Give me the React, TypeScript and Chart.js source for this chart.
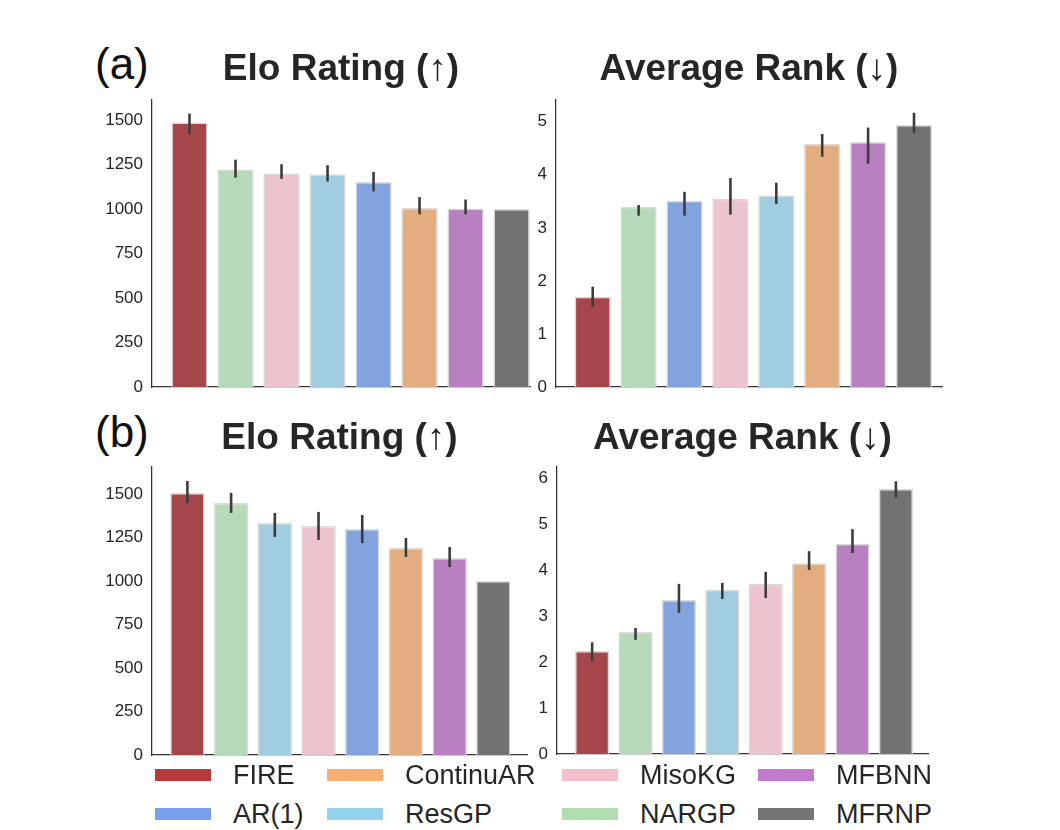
import { useEffect, useRef } from "react";
import { Chart, registerables } from "chart.js";
Chart.register(...registerables);

// (a) Elo rating
const eloAMethods = ["FIRE", "NARGP", "MisoKG", "ResGP", "AR(1)", "ContinuAR", "MFBNN", "MFRNP"];
const eloAValues = [1485, 1221, 1199, 1195, 1152, 1006, 1003, 1000];
const eloALow = [1420, 1176, 1169, 1154, 1099, 970, 970, 1000];
const eloAHigh = [1536, 1277, 1251, 1246, 1208, 1067, 1053, 1000];

// (a) Average rank
const rankAMethods = ["FIRE", "NARGP", "AR(1)", "MisoKG", "ResGP", "ContinuAR", "MFBNN", "MFRNP"];
const rankAValues = [1.7, 3.4, 3.51, 3.55, 3.61, 4.58, 4.62, 4.94];
const rankALow = [1.51, 3.23, 3.23, 3.25, 3.45, 4.34, 4.21, 4.79];
const rankAHigh = [1.89, 3.43, 3.68, 3.94, 3.85, 4.77, 4.89, 5.17];

// (b) Elo rating
const eloBMethods = ["FIRE", "NARGP", "ResGP", "MisoKG", "AR(1)", "ContinuAR", "MFBNN", "MFRNP"];
const eloBValues = [1506, 1448, 1333, 1316, 1299, 1190, 1132, 1000];
const eloBLow = [1448, 1391, 1253, 1236, 1218, 1138, 1080, 1000];
const eloBHigh = [1575, 1506, 1391, 1397, 1379, 1247, 1195, 1000];

// (b) Average rank
const rankBMethods = ["FIRE", "NARGP", "AR(1)", "ResGP", "MisoKG", "ContinuAR", "MFBNN", "MFRNP"];
const rankBValues = [2.24, 2.65, 3.35, 3.57, 3.7, 4.15, 4.57, 5.76];
const rankBLow = [2.02, 2.48, 3.07, 3.37, 3.39, 4.0, 4.37, 5.57];
const rankBHigh = [2.43, 2.74, 3.7, 3.72, 3.96, 4.41, 4.89, 5.93];

const legendMethods = ["FIRE", "ContinuAR", "MisoKG", "MFBNN", "AR(1)", "ResGP", "NARGP", "MFRNP"];

const barColors: Record<string, string> = {
  FIRE: "#a5474a",
  NARGP: "#b5d9b9",
  MisoKG: "#ecc4cd",
  ResGP: "#a0cde0",
  "AR(1)": "#82a3dd",
  ContinuAR: "#e4ad80",
  MFBNN: "#b880c1",
  MFRNP: "#727272",
};

const legendColors: Record<string, string> = {
  FIRE: "#b93a3c",
  NARGP: "#b1ddb3",
  MisoKG: "#f3bfcb",
  ResGP: "#93d1ec",
  "AR(1)": "#779fee",
  ContinuAR: "#f7ae6f",
  MFBNN: "#c27acd",
  MFRNP: "#737373",
};

const FONT = "'Liberation Sans', Arial, sans-serif";
const TEXT = "#262626";
const TITLE_SIZE = 37;

type Area = { l: number; r: number; t: number; b: number };
type PanelProps = {
  title: string;
  methods: string[];
  values: number[];
  low: number[];
  high: number[];
  yMax: number;
  step: number;
  xMin: number;
  xMax: number;
  area: Area;
  titleY: number;
};

const Y_AXIS_W = 62;
const PAD_R = 10;
const PAD_B = 10;

const Panel = ({ title, methods, values, low, high, yMax, step, xMin, xMax, area, titleY }: PanelProps) => {
  const ref = useRef<null | HTMLCanvasElement>(null);
  const left = area.l - Y_AXIS_W;
  const top = titleY - 34;
  const width = area.r + PAD_R - left;
  const height = area.b + PAD_B - top;
  const halfLine = TITLE_SIZE * 0.6;

  useEffect(() => {
    if (!ref.current) return;
    const ctx = ref.current.getContext("2d");
    if (!ctx) throw new Error("Canvas Error: Ctx not available");

    const errorBars = {
      id: "errorBars",
      afterDatasetsDraw(chart: Chart) {
        const { ctx: c, scales } = chart;
        const x = scales.x;
        const y = scales.y;
        c.save();
        c.strokeStyle = "#3c3c3c";
        c.lineWidth = 2.6;
        low.forEach((lo, i) => {
          if (high[i] - lo < 1e-9) return;
          const px = x.getPixelForValue(i);
          c.beginPath();
          c.moveTo(px, y.getPixelForValue(lo));
          c.lineTo(px, y.getPixelForValue(high[i]));
          c.stroke();
        });
        c.restore();
      },
    };

    const chart = new Chart(ctx, {
      type: "bar",
      data: {
        datasets: [
          {
            data: values.map((v, i) => ({ x: i, y: v })),
            backgroundColor: methods.map((m) => barColors[m]),
            borderColor: "rgba(214,214,214,0.9)",
            borderWidth: 1.5,
            barPercentage: 0.79,
            categoryPercentage: 1,
          },
        ],
      },
      options: {
        animation: false,
        responsive: true,
        maintainAspectRatio: false,
        layout: { padding: { left: 0, right: PAD_R, top: 0, bottom: PAD_B } },
        plugins: {
          legend: { display: false },
          tooltip: { enabled: false },
          title: {
            display: true,
            text: title,
            fullSize: false,
            color: TEXT,
            font: { family: FONT, weight: "bold", size: TITLE_SIZE, lineHeight: 1.2 },
            padding: { top: titleY - top - halfLine, bottom: area.t - titleY - halfLine },
          },
        },
        scales: {
          x: {
            type: "linear",
            min: xMin,
            max: xMax,
            offset: false,
            grid: { display: false, drawTicks: false },
            ticks: { display: false, stepSize: 1, includeBounds: false },
            border: { color: "#333333", width: 1.25 },
            afterFit: (s: any) => {
              s.height = 0;
            },
          },
          y: {
            min: 0,
            max: yMax,
            grid: { display: false, drawTicks: false },
            ticks: {
              stepSize: step,
              includeBounds: false,
              padding: 9,
              color: TEXT,
              font: { family: FONT, size: 17 },
              callback: (v: any) => String(v),
            },
            border: { color: "#333333", width: 1.25 },
            afterFit: (s: any) => {
              s.width = Y_AXIS_W;
              s.paddingTop = 0;
              s.paddingBottom = 0;
            },
          },
        },
      },
      plugins: [errorBars],
    } as any);
    return () => chart.destroy();
  }, []);

  return (
    <div style={{ position: "absolute", left, top, width, height }}>
      <canvas ref={ref}></canvas>
    </div>
  );
};

const legendCols = [155, 327, 562, 758];
const legendRows = [775, 814];

const Legend = () => (
  <>
    {legendMethods.map((m, i) => (
      <div
        key={m}
        style={{
          position: "absolute",
          left: legendCols[i % 4],
          top: legendRows[Math.floor(i / 4)] - 14,
          height: 28,
          display: "flex",
          alignItems: "center",
          fontFamily: FONT,
          fontSize: 27,
          color: TEXT,
          whiteSpace: "nowrap",
        }}
      >
        <span style={{ display: "inline-block", width: 56, height: 12, background: legendColors[m], marginRight: 22 }} />
        <span style={{ lineHeight: 1 }}>{m}</span>
      </div>
    ))}
  </>
);

const panelLabel = (text: string, top: number) => (
  <div
    style={{
      position: "absolute",
      left: 95,
      top,
      fontFamily: FONT,
      fontSize: 44,
      lineHeight: 1,
      color: "#111",
    }}
  >
    {text}
  </div>
);

const App = () => (
  <div style={{ position: "absolute", left: 0, top: 0, width: 1060, height: 830, background: "#fff", overflow: "hidden" }}>
    {panelLabel("(a)", 42)}
    {panelLabel("(b)", 410)}
    <Panel
      title="Elo Rating (↑)"
      methods={eloAMethods}
      values={eloAValues}
      low={eloALow}
      high={eloAHigh}
      yMax={1612}
      step={250}
      xMin={-0.815}
      xMax={7.4}
      area={{ l: 152, r: 530, t: 100, b: 387 }}
      titleY={70}
    />
    <Panel
      title="Average Rank (↓)"
      methods={rankAMethods}
      values={rankAValues}
      low={rankALow}
      high={rankAHigh}
      yMax={5.41}
      step={1}
      xMin={-0.8}
      xMax={7.61}
      area={{ l: 556, r: 942, t: 100, b: 387 }}
      titleY={70}
    />
    <Panel
      title="Elo Rating (↑)"
      methods={eloBMethods}
      values={eloBValues}
      low={eloBLow}
      high={eloBHigh}
      yMax={1655}
      step={250}
      xMin={-0.81}
      xMax={7.77}
      area={{ l: 152, r: 527, t: 467, b: 755 }}
      titleY={439}
    />
    <Panel
      title="Average Rank (↓)"
      methods={rankBMethods}
      values={rankBValues}
      low={rankBLow}
      high={rankBHigh}
      yMax={6.24}
      step={1}
      xMin={-0.81}
      xMax={7.74}
      area={{ l: 557, r: 928, t: 467, b: 754 }}
      titleY={439}
    />
    <Legend />
  </div>
);

export default App;
